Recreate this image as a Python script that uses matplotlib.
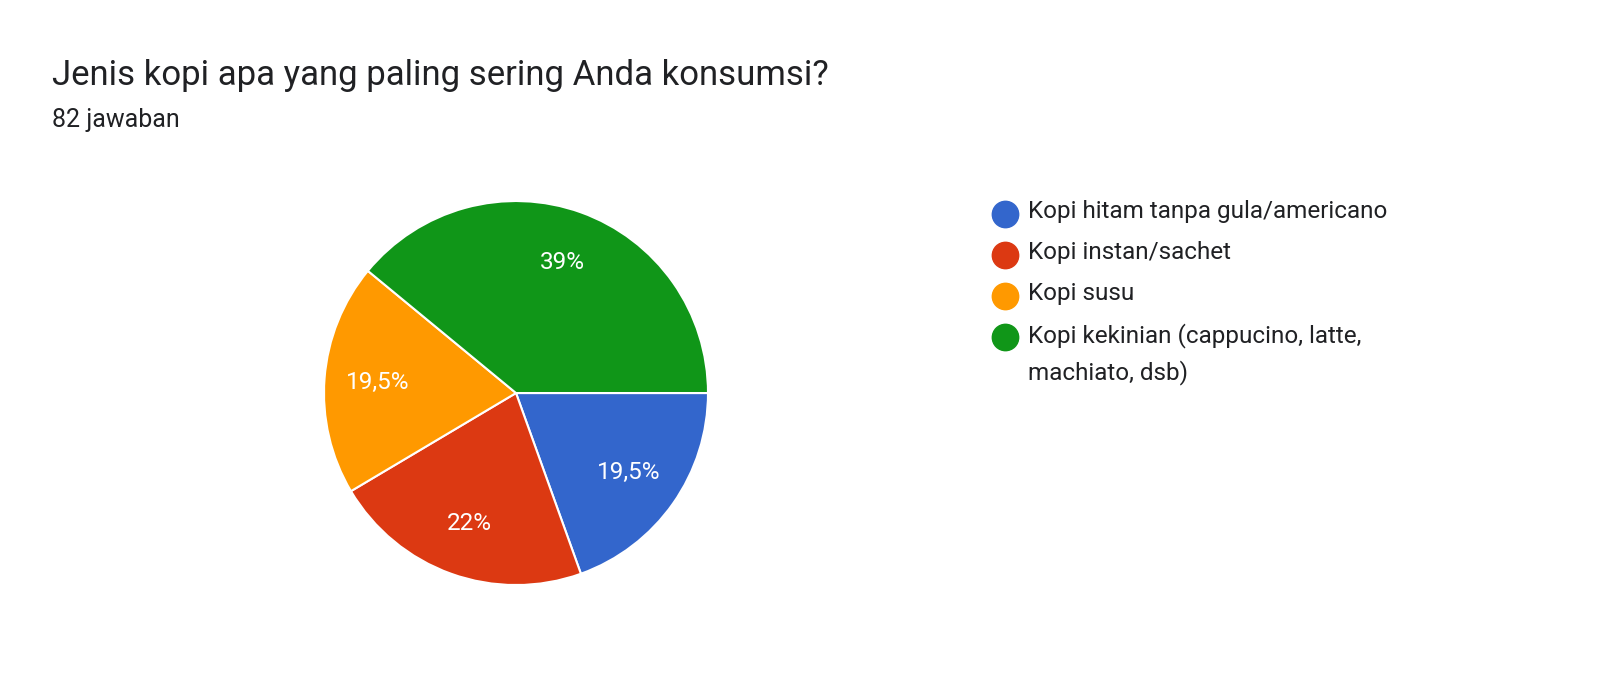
import matplotlib.pyplot as plt
from matplotlib.lines import Line2D

plt.rcParams["font.family"] = ["Roboto", "DejaVu Sans"]

# data =======================================================================

categories = ["Kopi hitam tanpa gula/americano", "Kopi instan/sachet",
              "Kopi susu", "Kopi kekinian (cappucino, latte,\nmachiato, dsb)"]
counts = [16, 18, 16, 32]
colors = ["#3366CC", "#DC3912", "#FF9900", "#109618"]


def fmt_pct(p):
    s = f"{p:.1f}".rstrip("0").rstrip(".")
    return s.replace(".", ",") + "%"


# plot =======================================================================

fig = plt.figure(figsize=(16, 6.73), dpi=100)
ax = fig.add_axes([0.2025, 0.1307, 0.24, 0.5706])
ax.pie(counts, colors=colors, startangle=0, counterclock=False,
       autopct=fmt_pct, pctdistance=0.72,
       wedgeprops=dict(edgecolor="white", linewidth=1.5),
       textprops=dict(color="white", fontsize=17.5))
ax.set_aspect("auto")
ax.set_xlim(-1, 1)
ax.set_ylim(-1, 1)

fig.text(52 / 1600, 1 - 76 / 673, "Jenis kopi apa yang paling sering Anda konsumsi?",
         fontsize=25, color="#202124", va="center")
fig.text(52 / 1600, 1 - 120 / 673, "82 jawaban", fontsize=18, color="#202124", va="center")

ys = [214, 255, 296, 337]
for cat, col, y in zip(categories, colors, ys):
    fig.add_artist(Line2D([1005 / 1600], [1 - y / 673], marker="o", markersize=19,
                          color=col, linestyle="none", transform=fig.transFigure))
    fig.text(1028 / 1600, 1 - (y - 14) / 673, cat, fontsize=17.5, color="#202124",
             va="top", linespacing=1.65)

fig.savefig("out.png", dpi=100)
